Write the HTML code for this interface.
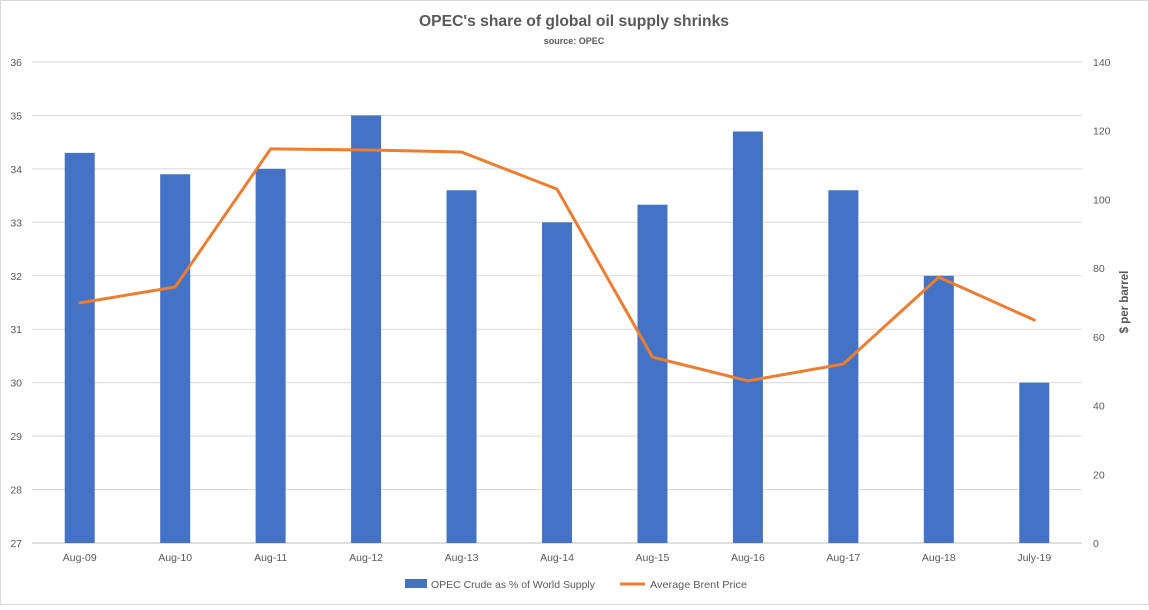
<!DOCTYPE html>
<html><head><meta charset="utf-8"><style>
html,body{margin:0;padding:0;background:#fff;}
svg text{font-family:"Liberation Sans",sans-serif;}
</style></head><body>
<svg id="chart" width="1149" height="605" viewBox="0 0 1149 605">
<rect x="0.5" y="0.5" width="1148" height="604" fill="#fff" stroke="#d9d9d9"/>
<text x="574" y="26" text-anchor="middle" font-size="16" font-weight="bold" fill="#595959" textLength="310" lengthAdjust="spacingAndGlyphs">OPEC's share of global oil supply shrinks</text>
<text x="574" y="44" text-anchor="middle" font-size="9" font-weight="bold" fill="#595959">source: OPEC</text>
<g id="grid"></g><g id="bars"></g><g id="line"></g><g id="axes"></g>
<text transform="translate(1128,302) rotate(-90)" text-anchor="middle" font-size="11.5" font-weight="bold" fill="#595959">$ per barrel</text>
<rect x="405" y="579" width="22" height="9" fill="#4472c4"/>
<text x="431" y="588" font-size="10.5" fill="#595959" textLength="164" lengthAdjust="spacingAndGlyphs">OPEC Crude as % of World Supply</text>
<line x1="620" y1="584" x2="645" y2="584" stroke="#ed7d31" stroke-width="3"/>
<text x="650" y="588" font-size="10.5" fill="#595959" textLength="97" lengthAdjust="spacingAndGlyphs">Average Brent Price</text>
</svg>
<script>
const categories=["Aug-09","Aug-10","Aug-11","Aug-12","Aug-13","Aug-14","Aug-15","Aug-16","Aug-17","Aug-18","July-19"];
const opecShare=[34.3,33.9,34.0,35.0,33.6,33.0,33.33,34.7,33.6,32.0,30.0];
const brentPrice=[69.9,74.5,114.7,114.4,113.8,103,54.1,47.2,52.1,77.4,64.9];
const leftTicks=[27,28,29,30,31,32,33,34,35,36];
const rightTicks=[0,20,40,60,80,100,120,140];
const NS="http://www.w3.org/2000/svg";
const X0=32,X1=1082,YT=62,YB=543;
const band=(X1-X0)/categories.length;
const xC=i=>X0+band*(i+0.5);
const yL=v=>YB-(v-27)/9*(YB-YT);
const yR=v=>YB-v/140*(YB-YT);
function mk(tag,attrs,parent,txt){const e=document.createElementNS(NS,tag);for(const k in attrs)e.setAttribute(k,attrs[k]);if(txt!==undefined)e.textContent=txt;document.getElementById(parent).appendChild(e);return e;}
leftTicks.forEach(t=>{
 const g=mk('line',{x1:X0,x2:X1,y1:yL(t),y2:yL(t),stroke:t===27?'#bfbfbf':'#d9d9d9','stroke-width':1},'grid');
 
 
 const l=mk('text',{x:22,y:yL(t)+4,'text-anchor':'end','font-size':10.5,fill:'#595959'},'axes',t);
 
 
});
rightTicks.forEach(t=>{
 const l=mk('text',{x:1093,y:yR(t)+4,'font-size':10.5,fill:'#595959'},'axes',t);
 
 
});
categories.forEach((c,i)=>{
 const h=YB-yL(opecShare[i]);
 const b=mk('rect',{x:xC(i)-15,y:yL(opecShare[i]),width:30,height:h,fill:'#4472c4'},'bars');
 
 
 const l=mk('text',{x:xC(i),y:561,'text-anchor':'middle','font-size':10.5,fill:'#595959'},'axes',c);
 
 
});
const pts=brentPrice.map((v,i)=>xC(i)+','+yR(v)).join(' ');
const pl=mk('polyline',{points:pts,fill:'none',stroke:'#ed7d31','stroke-width':3,'stroke-linejoin':'round','stroke-linecap':'round'},'line');


</script>
</body></html>
